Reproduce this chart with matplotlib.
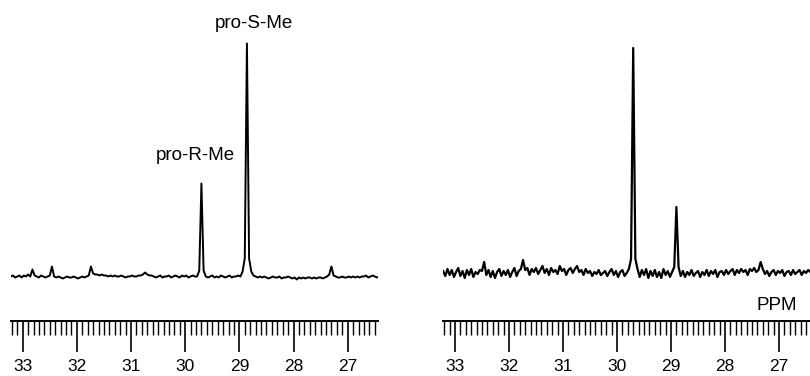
"""
13C NMR spectra (two panels) of the methyl region, 26.4-33.2 ppm.

Left: pro-R-Me / pro-S-Me labelled spectrum.
Right: second sample, same ppm scale.

Output: out.png (810x376)
"""

import numpy as np
import matplotlib.pyplot as plt
from matplotlib.ticker import MultipleLocator, FixedLocator


W_PX, H_PX = 810, 376
DPI = 100

# ppm grid: 33.22 down to 26.42 in 0.04 ppm steps (171 points)
PPM_START = 33.22
PPM_STEP = 0.04

# left spectrum intensities (px above baseline)
LEFT_INTENSITY = [
    0, 1, -1, 0, 1, -1, 1, 0, 2, 0,
    7, 1, 0, -1, 1, 0, -1, 0, 1, 10,
    0, -1, 0, -1, -2, -1, 0, -1, -1, 0,
    -1, -2, -1, 0, -1, 0, 1, 10, 3, 2,
    2, 1, 2, 1, 1, 0, 1, 0, 1, 0,
    0, 1, 0, -1, 0, 0, 1, 0, 0, 1,
    1, 2, 4, 2, 1, 1, 0, -1, 0, 1,
    -1, 0, 0, 1, -1, 0, 1, 0, -1, 1,
    0, 1, -1, 0, 1, 0, 0, 6, 93, 6,
    0, -1, 0, 1, -1, 0, -1, 1, 0, -1,
    0, 1, -1, 0, 0, 1, 0, 5, 18, 233,
    18, 5, 1, 0, -1, 0, -1, 0, -1, -2,
    -1, 0, -1, -1, 0, -2, -1, -1, 0, -1,
    -2, -1, -3, -1, -2, -1, -2, -1, -1, -2,
    -1, -2, -1, -1, -2, -1, 0, 2, 10, 1,
    0, -1, -1, 0, -1, -1, 0, -1, 0, -1,
    0, -1, 0, 0, 1, -1, 0, 1, 0, -1,
    0,
]

# right spectrum intensities (noisier)
RIGHT_INTENSITY = [
    2, -3, 4, -2, 3, -4, 1, 5, -3, 2,
    -5, 3, -2, 4, -4, 1, -1, 3, 2, 11,
    -2, 3, -4, 2, -5, 1, 4, -3, 2, -2,
    3, -4, 1, 5, -3, 2, 4, 13, 3, 5,
    -2, 4, 1, 5, -1, 3, 7, 0, 4, -2,
    5, 1, 3, -1, 7, 2, 4, -2, 3, 5,
    0, 4, 7, 1, 3, -2, 4, 0, 2, -3,
    1, -1, 3, -2, 0, 2, -3, 1, 4, -2,
    2, -4, 1, 3, -3, 0, 4, 14, 225, 14,
    4, -4, 3, -2, 4, -5, 2, -3, 3, -4,
    1, -5, 4, -2, 2, -4, 1, 6, 66, 6,
    -3, 2, -4, 1, -2, 3, -3, 0, 2, -4,
    1, -2, 3, -3, 2, -1, 3, -4, 1, 2,
    -2, 3, -1, 2, 4, -2, 3, 0, 4, 1,
    3, -2, 4, 2, 5, 1, 3, 11, 4, -1,
    2, -3, 1, 3, -2, 2, 0, 3, -3, 1,
    2, -2, 3, -1, 1, 3, -2, 2, 0, 3,
    1,
]

MAJOR_TICKS = [33, 32, 31, 30, 29, 28, 27]
TICK_LABELS = ["33", "32", "31", "30", "29", "28", "27"]

PEAK_LABELS = ["pro-S-Me", "pro-R-Me"]

TICK_FONT = ["Liberation Sans Narrow", "Liberation Sans", "DejaVu Sans"]
TEXT_FONT = ["Liberation Sans", "DejaVu Sans"]


def px_rect(x0, y_top, width, height):
    """Pixel box (top-left origin) -> figure fraction rect."""
    return [x0 / W_PX, 1 - (y_top + height) / H_PX, width / W_PX, height / H_PX]


def draw_panel(fig, x0, x1, ppm_left, ppm_right, intensity, baseline_px, lw):
    ppm = PPM_START - PPM_STEP * np.arange(len(intensity))

    # spectrum, in px units above baseline
    top, bottom = 20, 300
    ax = fig.add_axes(px_rect(x0, top, x1 - x0, bottom - top))
    ax.plot(ppm, intensity, color="black", linewidth=lw)
    ax.set_xlim(ppm_left, ppm_right)
    below = bottom - baseline_px
    ax.set_ylim(-below, (bottom - top) - below)
    ax.axis("off")

    # ppm scale: line at y=320.7 with ticks hanging down
    scale_y = 320.7
    sc = fig.add_axes(px_rect(x0, scale_y - 1, x1 - x0, 1))
    sc.set_xlim(ppm_left, ppm_right)
    sc.set_yticks([])
    for side in ("top", "left", "right"):
        sc.spines[side].set_visible(False)
    sc.spines["bottom"].set_linewidth(1.4)
    sc.patch.set_alpha(0)
    sc.xaxis.set_major_locator(FixedLocator(MAJOR_TICKS))
    sc.set_xticklabels(TICK_LABELS, family=TICK_FONT, fontsize=12.5)
    sc.xaxis.set_minor_locator(MultipleLocator(0.1))
    sc.tick_params(axis="x", which="major", direction="out", length=22.3, width=1.2, pad=5)
    sc.tick_params(axis="x", which="minor", direction="out", length=10.3, width=1.0)
    return ax


def main() -> None:
    fig = plt.figure(figsize=(W_PX / DPI, H_PX / DPI), dpi=DPI)

    # left panel: 33 at x=22.7, 27 at x=347.7 -> 54.17 px/ppm
    draw_panel(fig, 11, 378, 33.216, 26.44, LEFT_INTENSITY, baseline_px=276.5, lw=1.4)
    # right panel: 33 at x=455, 27 at x=779 -> 54 px/ppm, cut at figure edge
    draw_panel(fig, 442.7, 810, 33.228, 26.426, RIGHT_INTENSITY, baseline_px=273, lw=1.6)

    fig.text(254.3 / W_PX, 1 - 23 / H_PX, PEAK_LABELS[0], ha="center", va="center",
             family=TEXT_FONT, fontsize=13.5)
    fig.text(195.8 / W_PX, 1 - 155 / H_PX, PEAK_LABELS[1], ha="center", va="center",
             family=TEXT_FONT, fontsize=13.5)
    fig.text(776.7 / W_PX, 1 - 305 / H_PX, "PPM", ha="center", va="center",
             family=TEXT_FONT, fontsize=13.5)

    fig.savefig("out.png", dpi=DPI)


if __name__ == "__main__":
    main()
